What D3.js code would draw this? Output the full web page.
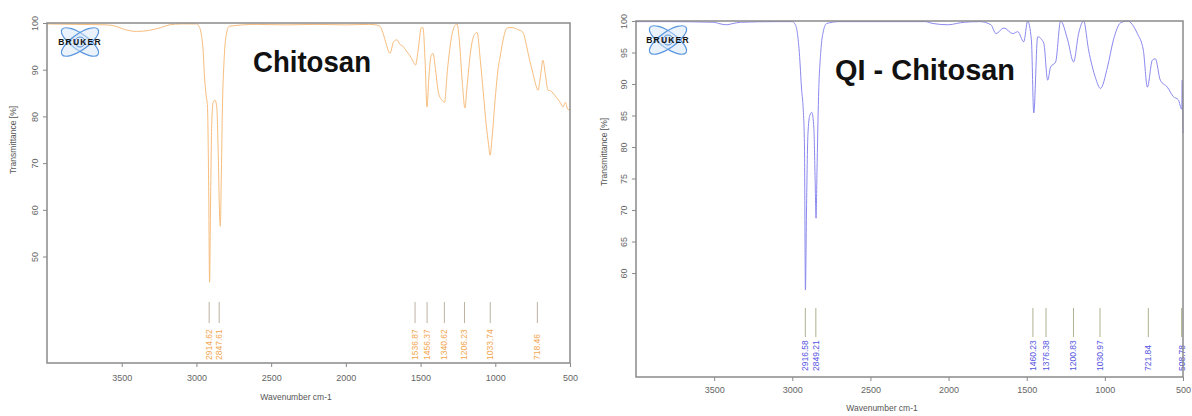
<!DOCTYPE html>
<html>
<head>
<meta charset="utf-8">
<script src="https://cdn.jsdelivr.net/npm/d3@7"></script>
<style>
  body { margin: 0; background: #fff; }
  svg { display: block; }
  text { font-family: "Liberation Sans", Arial, sans-serif; }
</style>
</head>
<body>
<div id="chart"></div>
<script>
// ---- data ----
var xTicks = [3500, 3000, 2500, 2000, 1500, 1000, 500];

// Chitosan spectrum (wavenumber, transmittance %)
var chitoWave = [4000, 3800, 3600, 3540, 3480, 3400, 3320, 3240, 3180, 3100, 3000, 2985, 2970, 2955, 2945, 2935, 2926, 2918, 2912, 2906, 2898, 2888, 2876, 2864, 2854, 2846, 2840, 2834, 2826, 2815, 2800, 2780, 2600, 2400, 2200, 2000, 1850, 1800, 1772, 1752, 1730, 1705, 1680, 1658, 1640, 1618, 1595, 1571, 1550, 1534, 1515, 1495, 1484, 1470, 1457, 1445, 1430, 1417, 1400, 1380, 1357, 1340, 1320, 1290, 1270, 1256, 1240, 1220, 1203, 1190, 1165, 1140, 1122, 1100, 1080, 1060, 1045, 1035, 1020, 1000, 980, 968, 950, 930, 915, 882, 850, 815, 790, 770, 754, 735, 714, 700, 681, 665, 647, 630, 614, 590, 565, 547, 530, 515, 500];
var chitoTrans = [99.8, 99.7, 99.6, 99.3, 98.6, 98.2, 98.4, 99.0, 99.6, 99.8, 99.8, 99.4, 98.0, 94.0, 88.0, 84.5, 82.0, 65.0, 44.5, 60.0, 78.0, 83.0, 83.5, 82.0, 72.0, 60.0, 56.5, 66.0, 82.0, 92.0, 97.5, 99.3, 99.7, 99.6, 99.7, 99.6, 99.7, 99.6, 99.3, 97.9, 95.5, 93.5, 96.0, 96.4, 95.5, 95.0, 94.0, 93.0, 91.8, 91.0, 94.5, 99.0, 99.0, 92.0, 82.0, 88.0, 93.0, 93.5, 90.0, 85.0, 83.5, 83.0, 90.0, 97.5, 99.5, 99.8, 96.0, 87.0, 81.8, 86.0, 94.0, 97.5, 98.0, 92.0, 85.0, 78.0, 74.0, 71.7, 76.0, 84.0, 90.5, 92.7, 96.0, 98.5, 99.0, 99.0, 98.6, 98.0, 95.0, 92.0, 90.0, 87.5, 85.6, 88.0, 92.0, 89.0, 85.6, 85.5, 85.0, 84.0, 83.0, 82.0, 83.0, 81.5, 81.4];
var chitoPeaks = [2914.62, 2847.61, 1536.87, 1456.37, 1340.62, 1206.23, 1033.74, 718.46];
var chitoYTicks = [50, 60, 70, 80, 90, 100];

// QI - Chitosan spectrum
var qiWave = [4000, 3800, 3500, 3470, 3420, 3380, 3330, 3100, 3000, 2985, 2970, 2955, 2940, 2930, 2922, 2916, 2909, 2900, 2888, 2875, 2862, 2854, 2848, 2842, 2832, 2818, 2800, 2780, 2700, 2150, 2100, 2000, 1950, 1900, 1800, 1729, 1697, 1646, 1589, 1557, 1519, 1494, 1470, 1455, 1430, 1391, 1366, 1347, 1315, 1283, 1238, 1200, 1168, 1136, 1104, 1060, 1028, 983, 945, 900, 856, 792, 754, 728, 696, 677, 645, 600, 562, 530, 508, 505, 500];
var qiTrans = [99.9, 99.9, 99.8, 99.6, 99.4, 99.6, 99.8, 99.9, 99.9, 99.6, 98.5, 95.0, 89.0, 86.0, 80.0, 57.3, 70.0, 82.0, 85.0, 85.5, 83.0, 75.0, 68.7, 76.0, 88.0, 95.0, 98.5, 99.6, 99.9, 99.9, 99.6, 99.4, 99.6, 99.8, 99.9, 99.4, 98.0, 98.9, 98.0, 98.3, 96.7, 100, 97.0, 85.4, 97.5, 96.5, 90.6, 92.7, 93.5, 100, 97.0, 93.5, 98.0, 100, 95.4, 91.0, 89.3, 92.7, 97.0, 99.7, 100, 98.0, 95.4, 89.5, 93.8, 94.0, 90.6, 89.5, 88.0, 87.5, 86.0, 90.6, 82.2];
var qiPeaks = [2916.58, 2849.21, 1460.23, 1376.38, 1200.83, 1030.97, 721.84, 508.78];
var qiYTicks = [60, 65, 70, 75, 80, 85, 90, 95, 100];

// ---- drawing ----
var svg = d3.select("#chart").append("svg")
  .attr("width", 1192).attr("height", 416);

var narrow = "'Liberation Sans Narrow', 'Liberation Sans', sans-serif";

function drawPanel(p) {
  var x = d3.scaleLinear().domain([4000, 500]).range([p.left, p.right]);
  var y = d3.scaleLinear().domain([p.yMin, 100]).range([p.bottom, p.top]);
  var g = svg.append("g");

  // bruker logo
  var logo = g.append("g").attr("transform", "translate(" + p.logoX + "," + p.logoY + ")");
  [35, -35].forEach(function(a) {
    logo.append("ellipse")
      .attr("rx", 22).attr("ry", 8)
      .attr("transform", "rotate(" + a + ")")
      .attr("fill", "#d6e6f8").attr("fill-opacity", 0.5)
      .attr("stroke", "#5a96dc").attr("stroke-width", 1.2);
  });
  logo.append("circle").attr("r", 5).attr("fill", "none")
    .attr("stroke", "#5a96dc").attr("stroke-width", 1);
  logo.append("text")
    .attr("y", 3).attr("text-anchor", "middle")
    .attr("font-size", 8.5).attr("font-weight", "bold")
    .attr("letter-spacing", 1.2).attr("fill", "#111")
    .text("BRUKER");

  // spectrum
  var line = d3.line()
    .x(function(d) { return x(d[0]); })
    .y(function(d) { return y(d[1]); })
    .curve(d3.curveMonotoneX);
  g.append("path")
    .datum(d3.zip(p.wave, p.trans))
    .attr("fill", "none")
    .attr("stroke", p.color)
    .attr("stroke-width", 1)
    .attr("d", line);

  // peak markers
  var pk = g.selectAll(".pk").data(p.peaks).enter().append("g");
  pk.append("line")
    .attr("x1", function(d) { return x(d); }).attr("x2", function(d) { return x(d); })
    .attr("y1", p.pkTop).attr("y2", p.pkLineEnd)
    .attr("stroke", p.pkLineColor).attr("stroke-width", 1);
  pk.append("text")
    .attr("transform", function(d) { return "translate(" + (x(d) + 3) + "," + p.pkTextBase + ") rotate(-90)"; })
    .attr("font-size", 8.5)
    .attr("font-family", narrow)
    .attr("fill", p.textColor)
    .text(function(d) { return d.toFixed(2); });

  // frame
  g.append("rect")
    .attr("x", p.left).attr("y", p.top)
    .attr("width", p.right - p.left).attr("height", p.bottom - p.top)
    .attr("fill", "none").attr("stroke", "#8a8a8a").attr("stroke-width", 1.5);

  // x axis
  var xa = g.append("g")
    .attr("transform", "translate(0," + p.bottom + ")")
    .call(d3.axisBottom(x).tickValues(xTicks).tickFormat(d3.format("d"))
      .tickSize(4).tickPadding(p.xPad).tickSizeOuter(0));
  xa.select(".domain").remove();
  xa.selectAll("line").attr("stroke", "#8a8a8a");
  xa.selectAll("text").attr("fill", "#666").attr("font-size", 9)
    .attr("font-family", narrow);

  // y axis
  var ya = g.append("g")
    .attr("transform", "translate(" + p.left + ",0)")
    .call(d3.axisLeft(y).tickValues(p.yTicks).tickFormat(d3.format("d"))
      .tickSize(4).tickSizeOuter(0));
  ya.select(".domain").remove();
  ya.selectAll("line").attr("stroke", "#8a8a8a");
  ya.selectAll("text")
    .attr("x", 0).attr("y", -9).attr("dy", 0)
    .attr("transform", "rotate(-90)")
    .attr("text-anchor", "middle")
    .attr("fill", "#666").attr("font-size", 9)
    .attr("font-family", narrow);

  // axis titles
  g.append("text")
    .attr("x", p.xTitleX).attr("y", p.xTitleY)
    .attr("text-anchor", "middle").attr("font-size", 8.5).attr("fill", "#555")
    .attr("font-family", narrow)
    .text("Wavenumber cm-1");
  g.append("text")
    .attr("transform", "translate(" + p.yTitleX + "," + p.yTitleY + ") rotate(-90)")
    .attr("text-anchor", "middle").attr("font-size", 8.5).attr("fill", "#555")
    .attr("font-family", narrow)
    .text("Transmittance [%]");

  // title
  g.append("text")
    .attr("x", p.titleX).attr("y", p.titleY)
    .attr("font-family", "Lato, 'Open Sans', sans-serif")
    .attr("font-weight", "bold").attr("font-size", 29).attr("fill", "#111")
    .attr("textLength", p.titleW).attr("lengthAdjust", "spacingAndGlyphs")
    .text(p.title);
}

drawPanel({
  wave: chitoWave, trans: chitoTrans, peaks: chitoPeaks, yTicks: chitoYTicks,
  left: 47, right: 570, top: 23, bottom: 363, yMin: 27.2,
  color: "#f7bd7c", textColor: "#f2a64e", pkLineColor: "#bcb2a2",
  pkTop: 302, pkLineEnd: 323, pkTextBase: 360, xPad: 8,
  logoX: 80, logoY: 42,
  xTitleX: 296, xTitleY: 400, yTitleX: 16, yTitleY: 140,
  title: "Chitosan", titleX: 253, titleY: 72, titleW: 118
});

drawPanel({
  wave: qiWave, trans: qiTrans, peaks: qiPeaks, yTicks: qiYTicks,
  left: 636, right: 1183, top: 21, bottom: 377, yMin: 43.5,
  color: "#8b89ee", textColor: "#5555e2", pkLineColor: "#b0b092",
  pkTop: 308, pkLineEnd: 337, pkTextBase: 371, xPad: 6,
  logoX: 668, logoY: 40,
  xTitleX: 882, xTitleY: 411, yTitleX: 607, yTitleY: 152,
  title: "QI - Chitosan", titleX: 835, titleY: 80, titleW: 180
});
</script>
</body>
</html>
